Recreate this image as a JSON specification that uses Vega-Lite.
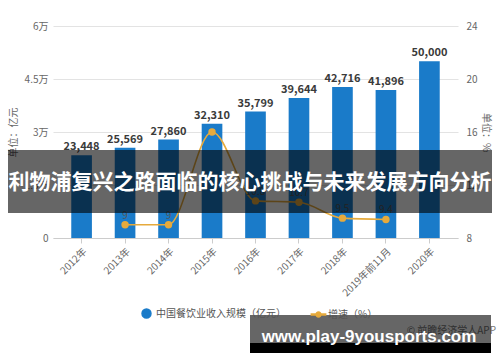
{
  "$schema": "https://vega.github.io/schema/vega-lite/v6.json",
  "width": 405,
  "height": 212,
  "autosize": {"type": "none"},
  "padding": {"left": 53, "top": 26, "right": 42, "bottom": 124},
  "background": "white",
  "config": {
    "font": "Noto Sans CJK SC",
    "view": {"stroke": null},
    "axis": {"labelColor": "#666", "labelFontSize": 10, "titleColor": "#666", "titleFontSize": 10, "titleFontWeight": "normal"}
  },
  "data": {
    "values": [
      {"year": "2012年", "revenue": 23448, "rate": null, "rateLabel": null},
      {"year": "2013年", "revenue": 25569, "rate": 9.0, "rateLabel": "9"},
      {"year": "2014年", "revenue": 27860, "rate": 9.0, "rateLabel": "9"},
      {"year": "2015年", "revenue": 32310, "rate": 16.0, "rateLabel": null},
      {"year": "2016年", "revenue": 35799, "rate": 10.8, "rateLabel": "10.8"},
      {"year": "2017年", "revenue": 39644, "rate": 10.7, "rateLabel": "10.7"},
      {"year": "2018年", "revenue": 42716, "rate": 9.5, "rateLabel": "9.5"},
      {"year": "2019年前11月", "revenue": 41896, "rate": 9.4, "rateLabel": "9.4"},
      {"year": "2020年", "revenue": 50000, "rate": null, "rateLabel": null}
    ]
  },
  "layer": [
    {
      "encoding": {
        "x": {
          "field": "year", "type": "ordinal", "sort": null,
          "scale": {"paddingInner": 0.525, "paddingOuter": 0.42},
          "axis": {"title": null, "labelAngle": -45, "domainColor": "#ccc", "tickColor": "#ccc", "tickSize": 5, "labelPadding": 3}
        },
        "y": {
          "field": "revenue", "type": "quantitative",
          "scale": {"domain": [0, 60000]},
          "axis": {
            "values": [0, 15000, 30000, 45000, 60000],
            "labelExpr": "datum.value == 0 ? '0' : (datum.value / 10000) + '万'",
            "title": "单位：亿元", "grid": true, "gridColor": "#e3e3e3", "domain": false, "ticks": false, "labelPadding": 5, "titlePadding": 6
          }
        }
      },
      "layer": [
        {
          "mark": {"type": "bar"},
          "encoding": {
            "color": {
              "datum": "中国餐饮业收入规模（亿元）",
              "type": "nominal",
              "scale": {"domain": ["中国餐饮业收入规模（亿元）", "增速（%）"], "range": ["#1a7bc9", "#e6aa3c"]},
              "legend": {
                "orient": "none", "legendX": 88, "legendY": 282, "direction": "horizontal", "title": null,
                "symbolType": "circle", "symbolSize": 80, "labelFontSize": 10, "labelColor": "#555", "columnPadding": 22,
                "encode": {
                  "symbols": {
                    "update": {
                      "shape": {"signal": "datum.value == '增速（%）' ? 'M-1.6,-0.12H1.6V0.12H-1.6Z M0.55,0 A0.55,0.55 0 1,1 -0.55,0 A0.55,0.55 0 1,1 0.55,0 Z' : 'circle'"}
                    }
                  }
                }
              }
            }
          }
        },
        {
          "mark": {"type": "text", "dy": -8, "fontSize": 11, "fontWeight": "bold", "color": "#3a3a3a"},
          "encoding": {"text": {"field": "revenue", "type": "quantitative", "format": ","}}
        }
      ]
    },
    {
      "transform": [{"filter": "datum.rate != null"}],
      "encoding": {
        "x": {"field": "year", "type": "ordinal", "sort": null},
        "y": {
          "field": "rate", "type": "quantitative",
          "scale": {"domain": [8, 24]},
          "axis": {"orient": "right", "values": [8, 12, 16, 20, 24], "title": "单位：%", "grid": false, "domain": false, "ticks": false, "labelPadding": 8, "titlePadding": 3}
        },
        "color": {"datum": "增速（%）", "type": "nominal"}
      },
      "layer": [
        {"mark": {"type": "line", "interpolate": "monotone", "strokeWidth": 1.6}},
        {"mark": {"type": "point", "filled": true, "size": 55, "opacity": 1}},
        {
          "transform": [{"filter": "datum.rateLabel != null"}],
          "mark": {"type": "text", "dy": -9, "fontSize": 10, "color": "#555"},
          "encoding": {"text": {"field": "rateLabel"}, "color": {"value": "#555"}}
        }
      ]
    },
    {
      "data": {"values": [{"t": "利物浦复兴之路面临的核心挑战与未来发展方向分析"}]},
      "layer": [
        {
          "mark": {"type": "rect", "color": "black", "opacity": 0.6},
          "encoding": {"x": {"value": -45}, "x2": {"value": 439}, "y": {"value": 124}, "y2": {"value": 187}}
        },
        {
          "mark": {"type": "text", "color": "white", "fontSize": 21, "fontWeight": "bold", "align": "center", "baseline": "middle"},
          "encoding": {"x": {"value": 197}, "y": {"value": 157}, "text": {"field": "t"}}
        }
      ]
    },
    {
      "data": {"values": [{"t": "www.play-9yousports.com", "c": "© 前瞻经济学人APP"}]},
      "layer": [
        {
          "mark": {"type": "text", "color": "#777", "fontSize": 10, "align": "right", "baseline": "middle"},
          "encoding": {"x": {"value": 443}, "y": {"value": 305}, "text": {"field": "c"}}
        },
        {
          "mark": {"type": "rect", "color": "black", "opacity": 0.6},
          "encoding": {"x": {"value": 197}, "x2": {"value": 438}, "y": {"value": 289}, "y2": {"value": 317}}
        },
        {
          "mark": {"type": "rect", "color": "black", "opacity": 1},
          "encoding": {"x": {"value": 197}, "x2": {"value": 438}, "y": {"value": 317}, "y2": {"value": 327}}
        },
        {
          "mark": {"type": "text", "color": "white", "fontSize": 17, "fontWeight": "bold", "align": "center", "baseline": "alphabetic", "font": "Liberation Sans"},
          "encoding": {"x": {"value": 316}, "y": {"value": 316}, "text": {"field": "t"}}
        }
      ]
    }
  ],
  "resolve": {"scale": {"y": "independent"}}
}
